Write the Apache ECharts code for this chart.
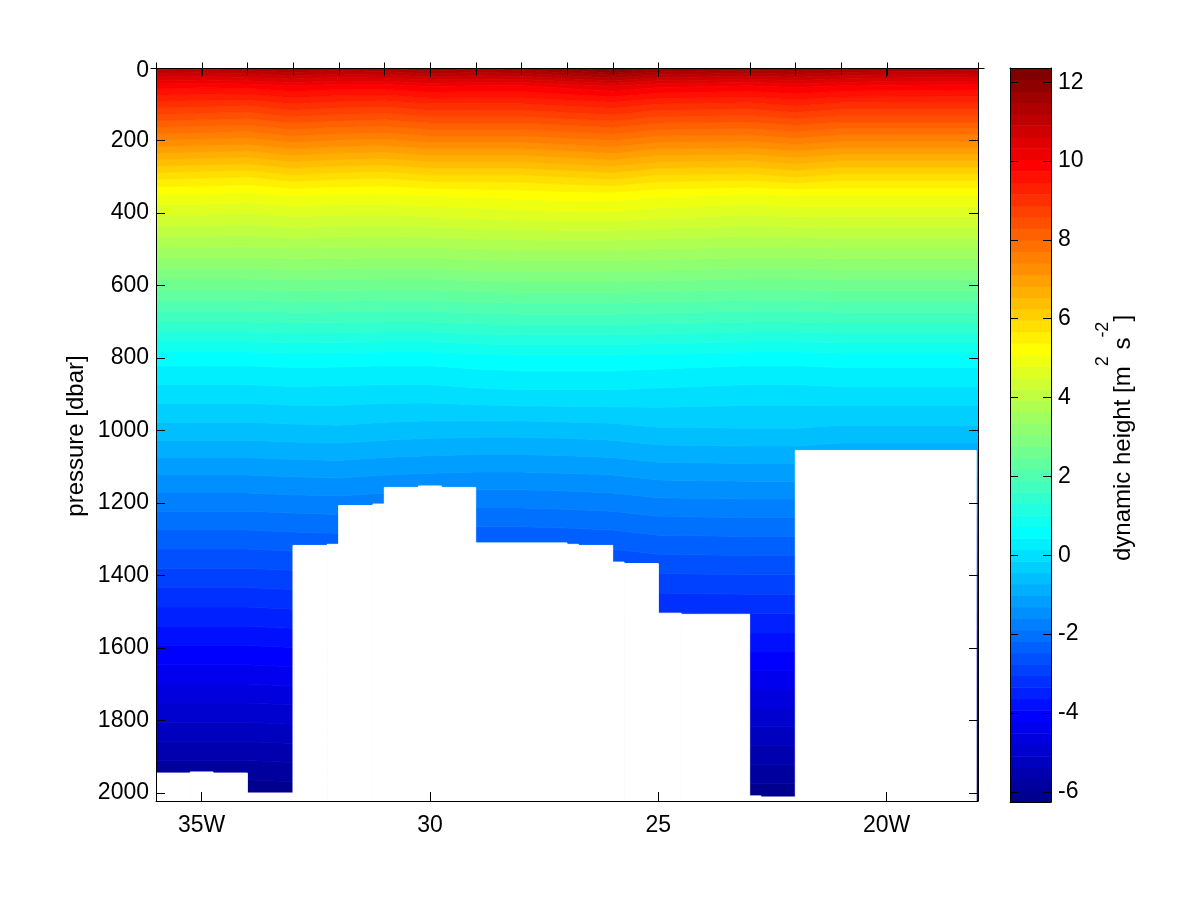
<!DOCTYPE html>
<html><head><meta charset="utf-8">
<script src="https://cdn.jsdelivr.net/npm/echarts@6/dist/echarts.min.js"></script>
<style>html,body{margin:0;padding:0;background:#fff}#c{width:1200px;height:900px}</style>
</head><body><div id="c"></div>
<script>
// ---------------- DATA ----------------
const stationLon = [-36,-35,-34,-33,-32,-31,-30,-29,-28,-27,-26,-25,-23,-22,-21,-20,-18];
const pressureLevels = [0,20,50,100,150,200,250,300,350,400,500,600,700,800,900,1000,1100,1200,1300,1400,1500,1600,1700,1800,1900,2000,2020];
// dynamic height profiles [m^2 s^-2] at each station, at pressureLevels (down to the local bottom)
const dh_36 = [11.35,10.75,9.87,9.04,8.22,7.40,6.58,5.77,5.05,4.56,3.57,2.58,1.60,0.55,-0.01,-0.57,-1.18,-1.77,-2.33,-2.88,-3.42,-3.97,-4.52,-5.07,-5.62,-6.17];
const dh_35 = [11.30,10.70,9.82,8.99,8.17,7.35,6.53,5.72,5.05,4.56,3.57,2.58,1.60,0.55,-0.01,-0.57,-1.18,-1.77,-2.33,-2.88,-3.42,-3.97,-4.52,-5.07,-5.62,-6.17];
const dh_34 = [11.45,10.80,9.85,8.94,8.12,7.30,6.48,5.67,5.00,4.51,3.57,2.58,1.60,0.55,-0.01,-0.57,-1.18,-1.77,-2.33,-2.88,-3.42,-3.97,-4.52,-5.07,-5.62,-6.17,-6.28];
const dh_33 = [11.60,10.95,10.00,9.14,8.32,7.50,6.68,5.87,5.10,4.61,3.60,2.61,1.63,0.58,0.02,-0.54,-1.15,-1.74,-2.30,-2.85,-3.39,-3.94,-4.49,-5.04,-5.59,-6.14,-6.24];
const dh_32 = [11.40,10.80,9.90,9.04,8.22,7.40,6.58,5.77,5.05,4.56,3.59,2.60,1.62,0.57,0.01,-0.52,-1.13,-1.72,-2.28,-2.83];
const dh_31 = [11.50,10.85,9.90,8.99,8.17,7.35,6.53,5.72,5.05,4.56,3.57,2.58,1.60,0.55,-0.01,-0.57,-1.18,-1.77,-2.33];
const dh_30 = [11.75,11.05,10.05,9.14,8.32,7.50,6.68,5.87,5.10,4.61,3.57,2.58,1.60,0.55,-0.01,-0.60,-1.21,-1.80];
const dh_29 = [11.60,10.95,10.00,9.14,8.32,7.50,6.68,5.87,5.15,4.66,3.62,2.63,1.65,0.60,0.04,-0.62,-1.23,-1.82,-2.38,-2.93];
const dh_28 = [11.70,11.00,10.00,9.14,8.32,7.50,6.68,5.87,5.20,4.71,3.65,2.66,1.68,0.63,0.07,-0.62,-1.23,-1.82,-2.38,-2.93];
const dh_27 = [12.00,11.25,10.15,9.24,8.42,7.60,6.78,5.97,5.25,4.76,3.65,2.66,1.68,0.63,0.07,-0.60,-1.21,-1.80,-2.36,-2.91];
const dh_26 = [12.36,11.50,10.30,9.34,8.52,7.70,6.88,6.07,5.25,4.76,3.65,2.66,1.68,0.63,0.07,-0.57,-1.18,-1.77,-2.33,-2.88];
const dh_25 = [11.90,11.15,10.10,9.14,8.32,7.50,6.68,5.87,5.15,4.66,3.62,2.63,1.65,0.60,0.04,-0.49,-1.10,-1.69,-2.25,-2.80,-3.34,-3.89];
const dh_23 = [11.70,11.00,10.00,9.09,8.27,7.45,6.63,5.82,5.05,4.56,3.57,2.58,1.60,0.55,-0.01,-0.47,-1.08,-1.67,-2.23,-2.78,-3.32,-3.87,-4.44,-5.00,-5.56,-6.11,-6.22];
const dh_22 = [11.80,11.10,10.10,9.24,8.42,7.60,6.78,5.97,5.10,4.61,3.57,2.58,1.60,0.55,-0.01,-0.47,-1.08,-1.67,-2.23,-2.78,-3.32,-3.87,-4.44,-5.00,-5.56,-6.11,-6.22];
const dh_21 = [11.60,10.95,10.00,9.09,8.27,7.45,6.63,5.82,5.10,4.61,3.60,2.61,1.63,0.58,0.02,-0.52,-1.13];
const dh_20 = [11.50,10.85,9.95,9.09,8.27,7.45,6.63,5.82,5.10,4.61,3.60,2.61,1.63,0.58,0.02,-0.52,-1.13];
const dh_18 = [11.45,10.80,9.90,9.09,8.27,7.45,6.63,5.82,5.10,4.61,3.60,2.61,1.63,0.58,0.02,-0.52,-1.13,-1.72,-2.28,-2.83,-3.37,-3.92,-4.47,-5.02,-5.57,-6.12,-6.23];
const profiles = [dh_36,dh_35,dh_34,dh_33,dh_32,dh_31,dh_30,dh_29,dh_28,dh_27,dh_26,dh_25,dh_23,dh_22,dh_21,dh_20,dh_18];

// bottom topography (white, no data): segment west edge, east edge, bottom pressure
const bottomWest = [-36,-35.25,-34.75,-34,-33,-32.25,-32,-31.25,-31,-30.25,-29.75,-29,-27,-26.75,-26,-25.75,-25,-24.5,-23,-22.75,-22];
const bottomEast = [-35.25,-34.75,-34,-33,-32.25,-32,-31.25,-31,-30.25,-29.75,-29,-27,-26.75,-26,-25.75,-25,-24.5,-23,-22.75,-22,-18.04];
const bottomPressure = [1945,1942,1945,2000,1317,1314,1207,1203,1157,1153,1157,1310,1314,1317,1363,1367,1504,1507,2008,2011,1055];

const xTickValues = [-35,-30,-25,-20];
const xTickLabels = ['35W','30','25','20W'];
const yTickValues = [0,200,400,600,800,1000,1200,1400,1600,1800,2000];
const cbTickValues = [-6,-4,-2,0,2,4,6,8,10,12];
const colorMin = -6.26, colorMax = 12.36, nColors = 64;
const lonMin = -36, lonMax = -18, pMax = 2022;

// ---------------- RENDER ----------------
function jetColors(n){
  const q = Math.ceil(n/4), u = [];
  for (let i=1;i<=q;i++) u.push(i/q);
  for (let i=1;i<q;i++) u.push(1);
  for (let i=q;i>=1;i--) u.push(i/q);
  const gOff = Math.ceil(q/2) - (n%4===1?1:0);
  const r=new Array(n).fill(0), g=new Array(n).fill(0), b=new Array(n).fill(0);
  for (let j=0;j<u.length;j++){
    const gi=gOff+j+1, ri=gi+q, bi=gi-q;
    if (gi>=1&&gi<=n) g[gi-1]=u[j];
    if (ri>=1&&ri<=n) r[ri-1]=u[j];
    if (bi>=1&&bi<=n) b[bi-1]=u[j];
  }
  return r.map((_,i)=>'rgb('+Math.round(r[i]*255)+','+Math.round(g[i]*255)+','+Math.round(b[i]*255)+')');
}
const colors = jetColors(nColors);
const step = (colorMax-colorMin)/nColors;

function crossing(prof, L){
  if (prof[0] < L) return 0;
  for (let j=0;j<prof.length-1;j++){
    const a=prof[j], b=prof[j+1];
    if (a>=L && b<L) return pressureLevels[j] + (a-L)/(a-b)*(pressureLevels[j+1]-pressureLevels[j]);
  }
  return null;
}
const boundaries = [];
for (let k=1;k<nColors;k++){
  const L = colorMin + k*step;
  const row = profiles.map(p=>crossing(p,L));
  boundaries[k] = row.map((v,c)=>{
    if (v!==null) return v;
    let best=null, bestD=Infinity;
    row.forEach((w,c2)=>{ if (w!==null){ const dd=Math.abs(stationLon[c2]-stationLon[c]); if (dd<bestD){bestD=dd;best=w;} } });
    const lastP = pressureLevels[profiles[c].length-1];
    return best===null ? pMax : Math.max(best,lastP);
  });
}
const zeros = stationLon.map(()=>0), bottoms = stationLon.map(()=>pMax);
const bandData = [];
for (let k=0;k<nColors;k++) bandData.push([-27,1000,k]);

const FONT = "'Liberation Sans', Arial, Helvetica, sans-serif";
const FS = 23;
const black = '#000';
const axisCommon = {
  z: 10,
  axisLine:{show:true,onZero:false,lineStyle:{color:black,width:1}},
  splitLine:{show:false}
};

const option = {
  backgroundColor:'#fff',
  animation:false,
  grid:[
    {left:156, top:68, width:822, height:733},
    {left:1010, top:68, width:41, height:734}
  ],
  xAxis:[
    Object.assign({}, axisCommon, {type:'value', gridIndex:0, position:'bottom', min:lonMin, max:lonMax,
      axisTick:{show:true,inside:true,length:9,customValues:xTickValues,lineStyle:{color:black}},
      axisLabel:{show:true,customValues:xTickValues,margin:13,color:black,fontSize:FS,fontFamily:FONT,
        formatter:(v)=>{const i=xTickValues.indexOf(v);return i>=0?xTickLabels[i]:'';}}}),
    Object.assign({}, axisCommon, {type:'value', gridIndex:0, position:'top', min:lonMin, max:lonMax,
      axisTick:{show:true,inside:true,length:9,customValues:xTickValues,lineStyle:{color:black}},
      axisLabel:{show:false}}),
    Object.assign({}, axisCommon, {type:'value', gridIndex:1, position:'bottom', min:0, max:1,
      axisTick:{show:false}, axisLabel:{show:false}}),
    Object.assign({}, axisCommon, {type:'value', gridIndex:1, position:'top', min:0, max:1,
      axisTick:{show:false}, axisLabel:{show:false}})
  ],
  yAxis:[
    Object.assign({}, axisCommon, {type:'value', gridIndex:0, position:'left', inverse:true, min:0, max:pMax,
      axisTick:{show:true,inside:true,length:9,customValues:yTickValues,lineStyle:{color:black}},
      axisLabel:{show:true,customValues:yTickValues,margin:7,color:black,fontSize:FS,fontFamily:FONT,
        formatter:(v)=> v===0 ? '{z|0}' : String(v),
        rich:{z:{fontSize:FS,fontFamily:FONT,color:black,padding:[6,0,0,0]}}}}),
    Object.assign({}, axisCommon, {type:'value', gridIndex:0, position:'right', inverse:true, min:0, max:pMax,
      axisTick:{show:true,inside:true,length:9,customValues:yTickValues,lineStyle:{color:black}},
      axisLabel:{show:false}}),
    Object.assign({}, axisCommon, {type:'value', gridIndex:1, position:'left', min:colorMin, max:colorMax,
      axisTick:{show:true,inside:true,length:8,customValues:cbTickValues,lineStyle:{color:black}},
      axisLabel:{show:false}}),
    Object.assign({}, axisCommon, {type:'value', gridIndex:1, position:'right', min:colorMin, max:colorMax,
      axisTick:{show:true,inside:true,length:8,customValues:cbTickValues,lineStyle:{color:black}},
      axisLabel:{show:true,customValues:cbTickValues,margin:7,color:black,fontSize:FS,fontFamily:FONT,
        formatter:(v)=>String(v)}})
  ],
  series:[
    {
      type:'custom', xAxisIndex:0, yAxisIndex:0, clip:true, silent:true, z:1,
      data: bandData,
      renderItem:(params, api)=>{
        const k = api.value(2);
        const top = k===nColors-1 ? zeros : boundaries[k+1];
        const bot = k===0 ? bottoms : boundaries[k];
        const pts = [];
        for (let c=0;c<stationLon.length;c++) pts.push(api.coord([stationLon[c], top[c]]));
        for (let c=stationLon.length-1;c>=0;c--) pts.push(api.coord([stationLon[c], bot[c]]));
        return {type:'polygon', shape:{points:pts}, style:{fill:colors[k], stroke:colors[k], lineWidth:0.7}};
      }
    },
    {
      type:'custom', xAxisIndex:0, yAxisIndex:0, clip:true, silent:true, z:2,
      data: bottomWest.map((w,i)=>[w, bottomEast[i], bottomPressure[i]]),
      renderItem:(params, api)=>{
        const a = api.coord([api.value(0), api.value(2)]);
        const b = api.coord([api.value(1), pMax]);
        return {type:'rect', shape:{x:a[0], y:a[1], width:b[0]-a[0], height:b[1]-a[1]+2},
          style:{fill:'#fff', stroke:'#fff', lineWidth:1}};
      }
    },
    {
      type:'custom', xAxisIndex:0, yAxisIndex:0, clip:false, silent:true, z:12,
      data: stationLon.map(l=>[l,0]),
      renderItem:(params, api)=>{
        const p = api.coord([api.value(0), api.value(1)]);
        const x = Math.round(p[0]) + 0.5, y = Math.round(p[1]) + 0.5;
        return {type:'group', children:[
          {type:'line', shape:{x1:x, y1:y-6, x2:x, y2:y+7}, style:{stroke:black, lineWidth:1}},
          {type:'line', shape:{x1:x-6, y1:y, x2:x+6, y2:y}, style:{stroke:black, lineWidth:1}}
        ]};
      }
    },
    {
      type:'custom', xAxisIndex:2, yAxisIndex:2, clip:true, silent:true,
      data: bandData.map(d=>[0,0,d[2]]),
      renderItem:(params, api)=>{
        const k = api.value(2);
        const a = api.coord([0, colorMin+(k+1)*step]);
        const b = api.coord([1, colorMin+k*step]);
        return {type:'rect', shape:{x:a[0], y:a[1], width:b[0]-a[0], height:b[1]-a[1]+0.5}, style:{fill:colors[k]}};
      }
    }
  ],
  graphic:[
    {type:'text', x:76, y:436, rotation:Math.PI/2, z:20,
      style:{text:'pressure [dbar]', fill:black, font:'24px '+FONT, align:'center', verticalAlign:'middle'}},
    {type:'text', x:1123, y:438, rotation:Math.PI/2, z:20,
      style:{text:'{m|dynamic height [m}{s|2}{m| s}{s|-2}{m|]}', fill:black, align:'center', verticalAlign:'middle',
        rich:{
          m:{fontSize:24, fontFamily:FONT, lineHeight:58, verticalAlign:'middle', fill:black},
          s:{fontSize:18, fontFamily:FONT, lineHeight:18, verticalAlign:'top', fill:black}
        }}}
  ]
};
const chart = echarts.init(document.getElementById('c'));
chart.setOption(option);
</script></body></html>
